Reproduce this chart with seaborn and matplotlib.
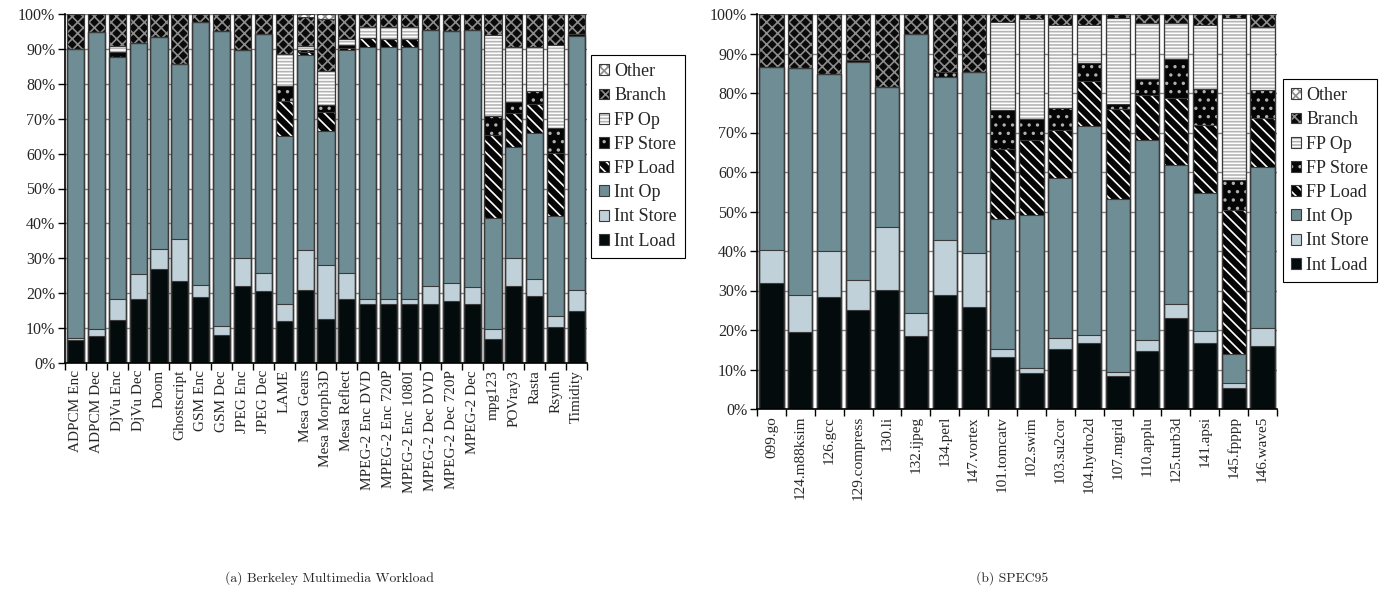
import numpy as np
import pandas as pd
import matplotlib
matplotlib.use("Agg")
import matplotlib.pyplot as plt
import matplotlib.patches as mpatches
from matplotlib.ticker import FuncFormatter
import seaborn as sns

# layer names, bottom -> top
capas = ["Int Load", "Int Store", "Int Op", "FP Load", "FP Store", "FP Op", "Branch", "Other"]

# (a) Berkeley Multimedia Workload
bmw_nombres = ["ADPCM Enc", "ADPCM Dec", "DjVu Enc", "DjVu Dec", "Doom", "Ghostscript",
               "GSM Enc", "GSM Dec", "JPEG Enc", "JPEG Dec", "LAME", "Mesa Gears",
               "Mesa Morph3D", "Mesa Reflect", "MPEG-2 Enc DVD", "MPEG-2 Enc 720P",
               "MPEG-2 Enc 1080I", "MPEG-2 Dec DVD", "MPEG-2 Dec 720P", "MPEG-2 Dec",
               "mpg123", "POVray3", "Rasta", "Rsynth", "Timidity"]
bmw_int_load  = [6.7, 7.6, 12.4, 18.4, 27.0, 23.4, 18.9, 7.9, 22.0, 20.5, 12.1, 20.8, 12.5,
                 18.2, 16.8, 16.8, 16.8, 16.8, 17.7, 16.8, 6.8, 22.0, 19.2, 10.3, 14.9]
bmw_int_store = [0.6, 2.0, 6.0, 7.0, 5.7, 12.2, 3.5, 2.6, 8.1, 5.3, 4.8, 11.6, 15.5,
                 7.6, 1.4, 1.6, 1.6, 5.2, 5.3, 5.1, 2.8, 8.1, 4.9, 3.2, 6.1]
bmw_int_op    = [82.7, 85.2, 69.2, 66.2, 60.6, 50.1, 75.4, 84.5, 59.6, 68.5, 48.1, 55.9, 38.4,
                 64.0, 72.4, 72.1, 72.2, 73.4, 72.0, 73.6, 32.0, 31.7, 41.8, 28.6, 72.8]
bmw_fp_load   = [0, 0, 0, 0, 0, 0, 0, 0, 0, 0, 10.2, 0.7, 5.5,
                 0.6, 2.4, 2.3, 2.3, 0, 0, 0, 23.8, 9.9, 8.3, 18.0, 0]
bmw_fp_store  = [0, 0, 1.4, 0, 0, 0, 0, 0, 0, 0, 4.3, 0.7, 2.1,
                 0.6, 0, 0, 0, 0, 0, 0, 5.5, 3.0, 3.7, 7.2, 0.5]
bmw_fp_op     = [0, 0, 1.9, 0, 0, 0, 0, 0, 0, 0, 9.0, 1.2, 9.8,
                 1.8, 3.2, 3.4, 3.3, 0, 0, 0, 23.1, 15.8, 12.6, 23.8, 0]
bmw_branch    = [10.0, 5.2, 9.1, 8.4, 6.7, 14.3, 2.2, 5.0, 10.3, 5.7, 11.5, 8.3, 14.8,
                 7.2, 3.8, 3.8, 3.8, 4.6, 5.0, 4.5, 6.0, 9.5, 9.5, 8.9, 5.7]
bmw_other     = [0, 0, 0, 0, 0, 0, 0, 0, 0, 0, 0, 0.8, 1.4,
                 0, 0, 0, 0, 0, 0, 0, 0, 0, 0, 0, 0]

# (b) SPEC95
spec_nombres = ["099.go", "124.m88ksim", "126.gcc", "129.compress", "130.li", "132.ijpeg",
                "134.perl", "147.vortex", "101.tomcatv", "102.swim", "103.su2cor",
                "104.hydro2d", "107.mgrid", "110.applu", "125.turb3d", "141.apsi",
                "145.fpppp", "146.wave5"]
spec_int_load  = [31.9, 19.5, 28.4, 25.0, 30.2, 18.4, 28.8, 25.9, 13.2, 9.2, 15.3, 16.6,
                  8.3, 14.7, 23.1, 16.8, 5.2, 16.0]
spec_int_store = [8.3, 9.3, 11.6, 7.6, 15.9, 5.8, 13.9, 13.7, 2.1, 1.1, 2.7, 2.1,
                  1.1, 2.7, 3.4, 2.9, 1.3, 4.6]
spec_int_op    = [46.5, 57.5, 44.8, 55.2, 35.5, 70.7, 41.3, 45.8, 32.9, 38.7, 40.5, 52.9,
                  43.8, 50.8, 35.2, 35.0, 7.4, 40.6]
spec_fp_load   = [0, 0, 0, 0, 0, 0, 0, 0, 17.7, 19.2, 12.2, 11.4,
                  22.8, 11.3, 17.0, 17.2, 36.4, 12.5]
spec_fp_store  = [0, 0, 0, 0.6, 0, 0, 1.2, 0, 9.7, 5.3, 5.5, 4.6,
                  1.3, 4.1, 9.8, 9.0, 7.8, 7.1]
spec_fp_op     = [0, 0, 0, 0, 0, 0, 0, 0, 22.5, 25.2, 21.0, 9.6,
                  21.6, 14.0, 9.1, 16.4, 40.8, 15.8]
spec_branch    = [13.3, 13.7, 15.2, 11.6, 18.4, 5.1, 14.8, 14.6, 1.9, 1.3, 2.8, 2.8,
                  1.1, 2.4, 2.4, 2.7, 1.1, 3.4]
spec_other     = [0] * 18

# face colour, hatch colour, hatch pattern for each layer
estilos = {
    "Int Load":  ("#030b0c", "#030b0c", None),
    "Int Store": ("#c1d1d9", "#c1d1d9", None),
    "Int Op":    ("#6f8d94", "#6f8d94", None),
    "FP Load":   ("#050505", "#ffffff", "\\\\\\"),
    "FP Store":  ("#050505", "#b0b0b0", ".."),
    "FP Op":     ("#ffffff", "#b4b4b4", "-----"),
    "Branch":    ("#0a0a0a", "#8c8c8c", "xxx"),
    "Other":     ("#ffffff", "#8c8c8c", "xxxx"),
}
BORDE = "#3a3a3a"
SERIF = ["Liberation Serif", "DejaVu Serif"]

sns.set_style("ticks")
plt.rcParams["font.family"] = SERIF
plt.rcParams["hatch.linewidth"] = 1.2


def dibujar(ax, nombres, series, ancho):
    df = pd.DataFrame(dict(zip(capas, series)))
    df.insert(0, "bench", nombres)
    acum = df[capas].cumsum(axis=1)

    # fills from top layer down, each covering the lower part
    for capa in capas[::-1]:
        cara, hc, patron = estilos[capa]
        sns.barplot(x=df["bench"], y=acum[capa], ax=ax, color=cara, saturation=1,
                    width=ancho, errorbar=None, edgecolor=hc, linewidth=0,
                    hatch=patron)
    # segment outlines
    for capa in capas[::-1]:
        sns.barplot(x=df["bench"], y=acum[capa], ax=ax, color=BORDE, saturation=1,
                    width=ancho, errorbar=None, fill=False, linewidth=0.8)

    n = len(nombres)
    ax.set_xlim(-0.5, n - 0.5)
    ax.set_ylim(0, 100)
    ax.set_yticks(np.arange(0, 101, 10))
    ax.yaxis.set_major_formatter(FuncFormatter(lambda v, p: f"{int(v)}%"))
    ax.yaxis.grid(True, color="#808080", linewidth=1)
    ax.set_axisbelow(True)
    ax.set_xlabel("")
    ax.set_ylabel("")
    ax.set_xticks(np.arange(n))
    ax.set_xticklabels(nombres, rotation=90, fontsize=11, family=SERIF)
    ax.set_xticks(np.arange(n + 1) - 0.5, minor=True)
    ax.tick_params(axis="x", which="major", length=0, pad=5)
    ax.tick_params(axis="x", which="minor", length=5, width=1, direction="out", color="k")
    ax.tick_params(axis="y", length=5, width=1, direction="out", color="k",
                   labelsize=11.5, pad=2)
    for lab in ax.get_yticklabels():
        lab.set_family(SERIF)
    for s in ["top", "right"]:
        ax.spines[s].set_visible(False)
    for s in ["left", "bottom"]:
        ax.spines[s].set_color("k")
        ax.spines[s].set_linewidth(1.2)


def manejadores():
    hs = []
    for capa in capas[::-1]:
        cara, hc, patron = estilos[capa]
        relleno = mpatches.Patch(facecolor=cara, edgecolor=hc, hatch=patron, linewidth=0)
        borde = mpatches.Patch(facecolor="none", edgecolor=BORDE, linewidth=0.8)
        hs.append((relleno, borde))
    return hs, capas[::-1]


fig = plt.figure(figsize=(13.93, 5.95), dpi=100)
ax1 = fig.add_axes([65 / 1393, 1 - 363 / 595, 522 / 1393, 349 / 595])
ax2 = fig.add_axes([757 / 1393, 1 - 409 / 595, 520 / 1393, 395 / 595])

dibujar(ax1, bmw_nombres,
        [bmw_int_load, bmw_int_store, bmw_int_op, bmw_fp_load, bmw_fp_store,
         bmw_fp_op, bmw_branch, bmw_other], 0.82)
dibujar(ax2, spec_nombres,
        [spec_int_load, spec_int_store, spec_int_op, spec_fp_load, spec_fp_store,
         spec_fp_op, spec_branch, spec_other], 0.84)

for ax, (lx, ly) in [(ax1, (591, 55)), (ax2, (1283, 79))]:
    hs, labs = manejadores()
    leg = fig.legend(hs, labs, loc="upper left",
                     bbox_to_anchor=(lx / 1393, 1 - ly / 595),
                     prop={"family": SERIF, "size": 13}, frameon=True, fancybox=False,
                     edgecolor="k", framealpha=1, handlelength=0.55, handleheight=0.55,
                     handletextpad=0.3, labelspacing=0.4, borderpad=0.45,
                     borderaxespad=0)
    leg.get_frame().set_linewidth(0.8)

fig.text(329 / 1393, 1 - 578 / 595, "(a) Berkeley Multimedia Workload",
         family="cmr10", fontsize=9.8, ha="center", va="center")
fig.text(1012 / 1393, 1 - 578 / 595, "(b) SPEC95",
         family="cmr10", fontsize=9.8, ha="center", va="center")

fig.savefig("out.png", dpi=100)
